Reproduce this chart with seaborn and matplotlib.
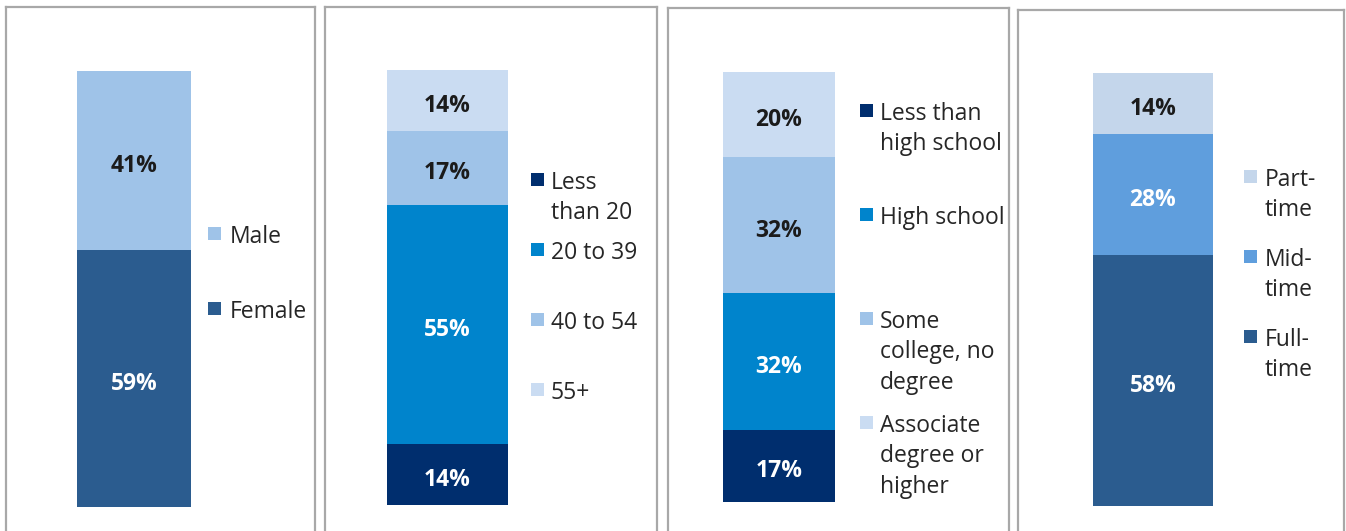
import matplotlib
matplotlib.use("Agg")
import matplotlib.pyplot as plt
from matplotlib.patches import Rectangle
import pandas as pd
import seaborn as sns

# ---- data (bottom segment first) ----
gender_labels = ["Female", "Male"]
gender_values = [59, 41]
gender_colors = ["#2b5c8f", "#9fc3e8"]

age_labels = ["Less\nthan 20", "20 to 39", "40 to 54", "55+"]
age_values = [14, 55, 17, 14]
age_colors = ["#002e6e", "#0084cc", "#9fc3e8", "#cadcf2"]

edu_labels = ["Less than\nhigh school", "High school",
              "Some\ncollege, no\ndegree", "Associate\ndegree or\nhigher"]
edu_values = [17, 32, 32, 20]
edu_colors = ["#002e6e", "#0084cc", "#9fc3e8", "#cadcf2"]

work_labels = ["Full-\ntime", "Mid-\ntime", "Part-\ntime"]
work_values = [58, 28, 14]
work_colors = ["#2b5c8f", "#5f9edd", "#c4d6eb"]

# segments that get white value labels
dark_colors = {"#2b5c8f", "#002e6e", "#0084cc", "#5f9edd"}

W, H = 1346, 531
sns.set_style("white")
plt.rcParams["font.family"] = ["Open Sans", "DejaVu Sans"]

fig = plt.figure(figsize=(W / 100, H / 100), dpi=100)
fig.patch.set_facecolor("white")


def fx(x):
    return x / W


def fy(y):
    return 1 - y / H


# layout in pixels: frame (left, right, top), bar (left, right, top, bottom),
# legend (marker x, text x, first marker top, pitch, reversed order)
panels = [
    (gender_labels, gender_values, gender_colors,
     (6, 315, 7), (77, 191, 71, 507), (208, 230, 227, 75, True)),
    (age_labels, age_values, age_colors,
     (325, 657, 7), (387, 508, 70, 505), (531, 551, 173, 70, False)),
    (edu_labels, edu_values, edu_colors,
     (668, 1009, 8), (723, 835, 72, 502), (860, 880, 104, 104, False)),
    (work_labels, work_values, work_colors,
     (1018, 1344, 10), (1093, 1213, 73, 506), (1244, 1265, 170, 80, True)),
]

B_EXT = 560  # frames run off the bottom of the image

for labels, values, colors, frame, bar, leg in panels:
    l, r, t = frame
    ax = fig.add_axes([fx(l), fy(B_EXT), fx(r) - fx(l), fy(t) - fy(B_EXT)])

    df = pd.DataFrame({"group": labels, "value": values, "color": colors})
    df["top"] = df["value"].cumsum()
    df["mid"] = df["top"] - df["value"] / 2

    # stacked bar: draw cumulative totals from the tallest down
    for _, row in df[::-1].iterrows():
        sns.barplot(x=["all"], y=[row["top"]], color=row["color"],
                    saturation=1, width=0.8, ax=ax, linewidth=0)
    for _, row in df.iterrows():
        ax.annotate(f"{row['value']}%", (0, row["mid"]),
                    xytext=(0, -11.5), textcoords="offset pixels",
                    ha="center", va="baseline",
                    fontsize=16.5, fontweight="bold",
                    color="white" if row["color"] in dark_colors else "#1b1b1b")

    bl, br, btop, bbot = bar
    u = 0.8 / (br - bl)
    c = (bl + br) / 2
    ax.set_xlim((l - c) * u, (r - c) * u)
    total = df["value"].sum()
    p = total / (bbot - btop)
    ax.set_ylim(-(B_EXT - bbot) * p, total + (btop - t) * p)

    ax.set_xlabel("")
    ax.set_ylabel("")
    ax.set_xticks([])
    ax.set_yticks([])
    for s in ax.spines.values():
        s.set_color("#a8a8a8")
        s.set_linewidth(1.6)

    # legend
    mx, tx, y0, pitch, rev = leg
    order = df[::-1] if rev else df
    for i, (_, row) in enumerate(order.iterrows()):
        ytop = y0 + i * pitch
        fig.add_artist(Rectangle((fx(mx), fy(ytop + 13)), 13 / W, 13 / H,
                                 transform=fig.transFigure,
                                 facecolor=row["color"], edgecolor="none"))
        fig.text(fx(tx), fy(ytop - 2), row["group"], ha="left",
                 va="top", fontsize=16.5, color="#262626",
                 linespacing=1.35)

fig.savefig("out.png", dpi=100, facecolor="white")
